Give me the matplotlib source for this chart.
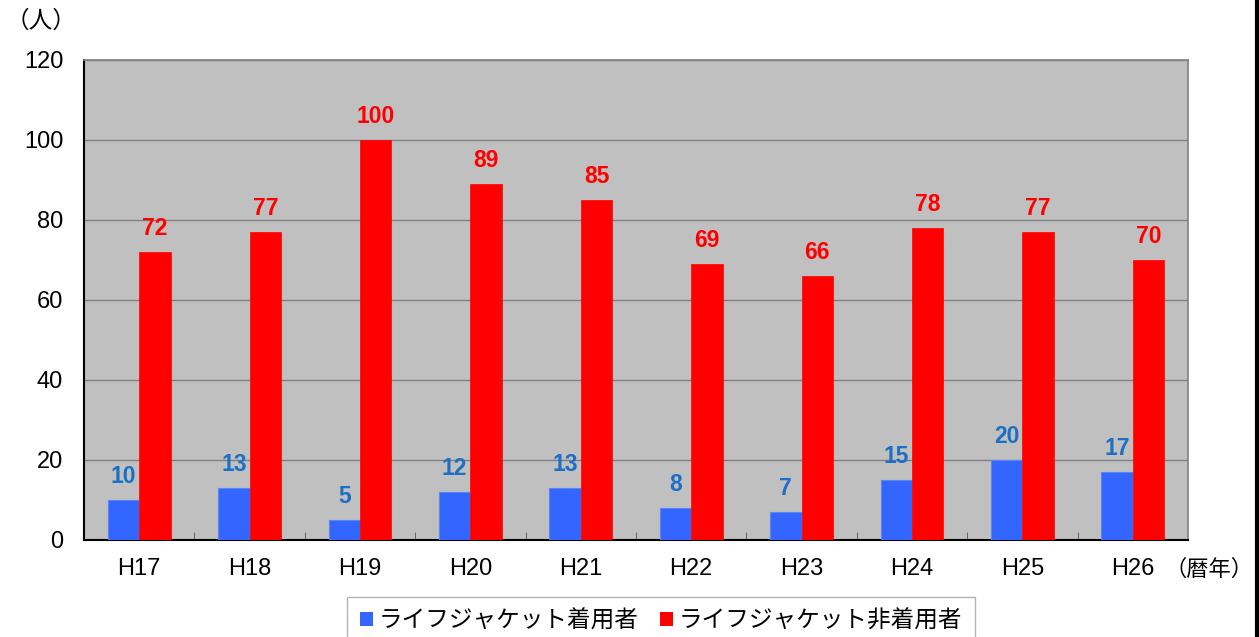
import numpy as np
import matplotlib.pyplot as plt
from matplotlib.lines import Line2D

plt.rcParams['font.family'] = ['Liberation Sans', 'Noto Sans CJK JP', 'DejaVu Sans']

# data
years = ['H17', 'H18', 'H19', 'H20', 'H21', 'H22', 'H23', 'H24', 'H25', 'H26']
wearing = [10, 13, 5, 12, 13, 8, 7, 15, 20, 17]
not_wearing = [72, 77, 100, 89, 85, 69, 66, 78, 77, 70]
series_names = ['ライフジャケット着用者', 'ライフジャケット非着用者']

fig = plt.figure(figsize=(12.59, 6.37), dpi=100)
ax = fig.add_axes([84 / 1259, 1 - 540 / 637, 1104 / 1259, 480 / 637])

x = np.arange(len(years))
w = 0.285
b1 = ax.bar(x - w / 2, wearing, w, color='#3366FF', edgecolor='#5B86F0', linewidth=0.8, zorder=3,
            label=series_names[0])
b2 = ax.bar(x + w / 2, not_wearing, w, color='#FF0000', edgecolor='#FF0000', linewidth=0.5, zorder=3,
            label=series_names[1])

for rect, v in zip(b1, wearing):
    ax.text(rect.get_x() + rect.get_width() / 2, v + 3, str(v), ha='center', va='bottom',
            fontsize=16.5, fontweight='bold', color='#1C6FC4')
for rect, v in zip(b2, not_wearing):
    ax.text(rect.get_x() + rect.get_width() / 2, v + 3, str(v), ha='center', va='bottom',
            fontsize=16.5, fontweight='bold', color='#FF0000')

ax.set_facecolor('#C0C0C0')
ax.set_xlim(-0.5, len(years) - 0.5)
ax.set_ylim(0, 120)
ax.set_yticks(range(0, 121, 20))
ax.tick_params(axis='y', length=0, labelsize=17, pad=15)
ax.yaxis.grid(True, color='#808080', linewidth=1, zorder=0)

ax.set_xticks(x)
ax.set_xticklabels(years, fontsize=17)
ax.tick_params(axis='x', length=0, pad=13)
ax.set_xticks(np.arange(0.5, len(years) - 0.5, 1), minor=True)
ax.tick_params(axis='x', which='minor', length=6, direction='in', color='#555555')

for s in ['top', 'right']:
    ax.spines[s].set_color('#808080')
    ax.spines[s].set_linewidth(1.2)
for s in ['left', 'bottom']:
    ax.spines[s].set_color('black')
    ax.spines[s].set_linewidth(1.5)

fig.text(6 / 1259, 1 - 22 / 637, '（人）', fontsize=17, va='center', ha='left')
fig.text(1164 / 1259, 1 - 570 / 637, '（暦年）', fontsize=16, va='center', ha='left')

leg = fig.legend(handles=[b1, b2], loc='upper left', bbox_to_anchor=(347 / 1259, 1 - 597 / 637),
                 ncol=2, fontsize=17, frameon=True, fancybox=False, edgecolor='#A0A0A0',
                 handlelength=0.55, handleheight=0.55, handletextpad=0.25, columnspacing=0.9,
                 borderpad=0.55, borderaxespad=0)
for h in leg.legend_handles:
    h.set_edgecolor('none')

fig.add_artist(Line2D([1257 / 1259, 1257 / 1259], [0, 1], color='black', linewidth=3,
                      transform=fig.transFigure))

fig.savefig('out.png', dpi=100)
